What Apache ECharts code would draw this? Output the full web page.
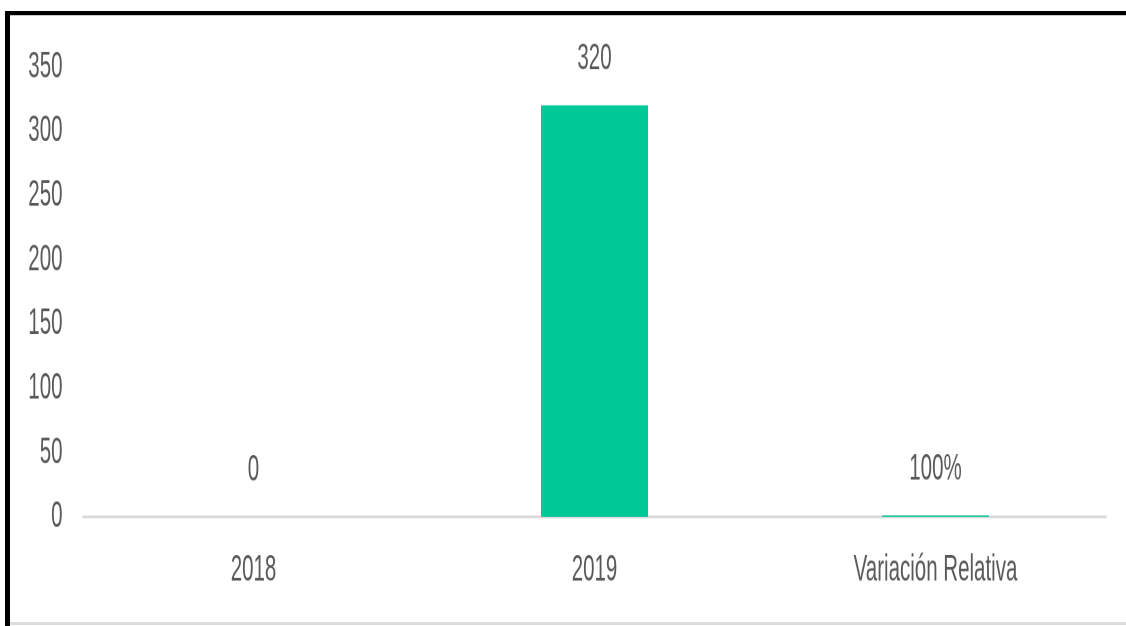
<!DOCTYPE html>
<html>
<head>
<meta charset="utf-8">
<title>2018 vs 2019</title>
<script src="https://cdn.jsdelivr.net/npm/echarts@6/dist/echarts.min.js"></script>
<style>
  html, body { margin: 0; padding: 0; background: #ffffff; }
  body { width: 1126px; height: 626px; position: relative; overflow: hidden; }
  #chart {
    position: absolute; left: 0; top: 0;
    width: 1126px; height: 344px;
    transform: scaleY(1.8198); transform-origin: 0 0;
  }
  .frame-top { position: absolute; left: 5px; top: 11px; width: 1121px; height: 4px; background: #000; }
  .frame-top-shade { position: absolute; left: 9px; top: 15px; width: 1117px; height: 1px; background: #c8c8c8; }
  .frame-left { position: absolute; left: 5px; top: 11px; width: 5px; height: 615px; background: #000; }
  .frame-bottom { position: absolute; left: 10px; top: 622px; width: 1116px; height: 3px; background: #dcdcdc; }
</style>
</head>
<body>
<div id="chart"></div>
<div class="frame-top"></div>
<div class="frame-top-shade"></div>
<div class="frame-left"></div>
<div class="frame-bottom"></div>
<script>
// Categories and values
const categories = ['2018', '2019', 'Variación Relativa'];
const values = [0, 320, 1];
// How each value is written in its label
const valueFormats = ['number', 'number', 'percent'];
// Value axis ticks
const yMin = 0;
const yMax = 350;
const yStep = 50;

const textColor = '#595959';
const fontFamily = '"Liberation Sans", Arial, sans-serif';

function formatValue(v, kind) {
  return kind === 'percent' ? Math.round(v * 100) + '%' : String(v);
}

const chart = echarts.init(document.getElementById('chart'), null, {
  renderer: 'canvas',
  devicePixelRatio: 2
});

chart.setOption({
  animation: false,
  backgroundColor: 'transparent',
  grid: { left: 83, right: 20, top: 36.65, bottom: 60, containLabel: false },
  xAxis: {
    type: 'category',
    data: categories,
    axisLine: { show: true, lineStyle: { color: '#d9d9d9', width: 1.6 } },
    axisTick: { show: false },
    axisLabel: {
      color: textColor, fontFamily: fontFamily, fontSize: 20.5, margin: 19
    }
  },
  yAxis: {
    type: 'value',
    min: yMin,
    max: yMax,
    interval: yStep,
    axisLine: { show: false },
    axisTick: { show: false },
    splitLine: { show: false },
    axisLabel: {
      color: textColor, fontFamily: fontFamily, fontSize: 20.5, margin: 20.5
    }
  },
  series: [{
    type: 'bar',
    data: values,
    barWidth: 107,
    itemStyle: { color: '#00C896' },
    label: {
      show: true,
      position: 'top',
      distance: 15,
      color: textColor,
      fontFamily: fontFamily,
      fontSize: 20.5,
      formatter: function (p) { return formatValue(p.value, valueFormats[p.dataIndex]); }
    }
  }]
});
</script>
</body>
</html>
